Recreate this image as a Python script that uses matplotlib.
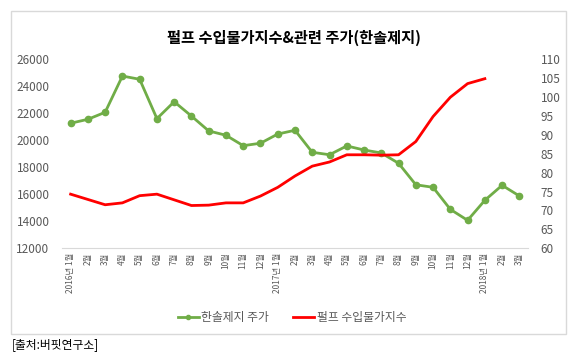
import matplotlib
matplotlib.use("Agg")
import matplotlib.pyplot as plt
from matplotlib.patches import Rectangle
from matplotlib.lines import Line2D

plt.rcParams['font.family'] = ['Noto Sans CJK KR', 'DejaVu Sans']

months = ["2016년 1월"] + [f"{m}월" for m in range(2, 13)] + \
         ["2017년 1월"] + [f"{m}월" for m in range(2, 13)] + \
         ["2018년 1월", "2월", "3월"]

hansol_price = [21250, 21540, 22060, 24740, 24500, 21590, 22840, 21780, 20680,
                20360, 19590, 19770, 20450, 20730, 19100, 18920, 19570, 19270,
                19050, 18290, 16700, 16510, 14880, 14070, 15550, 16660, 15870]

pulp_index = [74.3, 72.9, 71.5, 72.0, 73.9, 74.3, 72.8, 71.3, 71.4, 72.0, 72.0,
              73.8, 76.1, 79.1, 81.7, 82.8, 84.7, 84.7, 84.6, 84.7, 88.2, 94.8,
              99.9, 103.5, 104.8]

label_green = "한솔제지 주가"
label_red = "펄프 수입물가지수"
title = "펄프 수입물가지수&관련 주가(한솔제지)"
source = "[출처:버핏연구소]"

W, H = 577, 357
fig = plt.figure(figsize=(W / 100, H / 100), dpi=100)

# outer chart border
fig.patches.append(Rectangle((11 / W, (H - 334) / H), (566 - 11) / W, (334 - 11) / H,
                             transform=fig.transFigure, fill=False,
                             edgecolor="#D9D9D9", linewidth=1))

ax = fig.add_axes([62 / W, (H - 248.3) / H, (528 - 62) / W, (248.3 - 59) / H])
ax2 = ax.twinx()

x = list(range(len(months)))
green = "#70AD47"
red = "#FF0000"
ax.plot(x, hansol_price, color=green, linewidth=2, marker="o", markersize=4.5,
        label=label_green, zorder=3)
ax2.plot(x[:len(pulp_index)], pulp_index, color=red, linewidth=2, label=label_red)

ax.set_xlim(-0.5, len(months) - 0.5)
ax.set_ylim(12000, 26000)
ax.set_yticks(range(12000, 26001, 2000))
ax2.set_ylim(60, 110)
ax2.set_yticks(range(60, 111, 5))

ax.set_xticks(x)
ax.set_xticklabels(months, rotation=90, fontsize=6, color="#595959")

for a in (ax, ax2):
    for s in a.spines.values():
        s.set_visible(False)
    a.tick_params(axis="y", length=0, labelsize=8.5, labelcolor="#595959")
ax.spines["bottom"].set_visible(True)
ax.spines["bottom"].set_color("#D9D9D9")
ax.tick_params(axis="x", length=0, pad=3)
ax.tick_params(axis="y", pad=9)
ax2.tick_params(axis="y", pad=9)

fig.text(0.510, 1 - 38 / H, title, ha="center", va="center", fontsize=11,
         fontweight="bold", color="#000000")

handles = [Line2D([0], [0], color=green, linewidth=2, marker="o", markersize=3),
           Line2D([0], [0], color=red, linewidth=2)]
fig.legend(handles, [label_green, label_red], loc="center",
           bbox_to_anchor=(0.506, 1 - 318 / H), ncol=2, frameon=False,
           fontsize=8.5, handlelength=1.8, handletextpad=0.2, columnspacing=2.0,
           labelcolor="#595959")

fig.text(12 / W, 1 - 345 / H, source, ha="left", va="center", fontsize=8.5,
         color="#000000")

fig.savefig("out.png", dpi=100)
